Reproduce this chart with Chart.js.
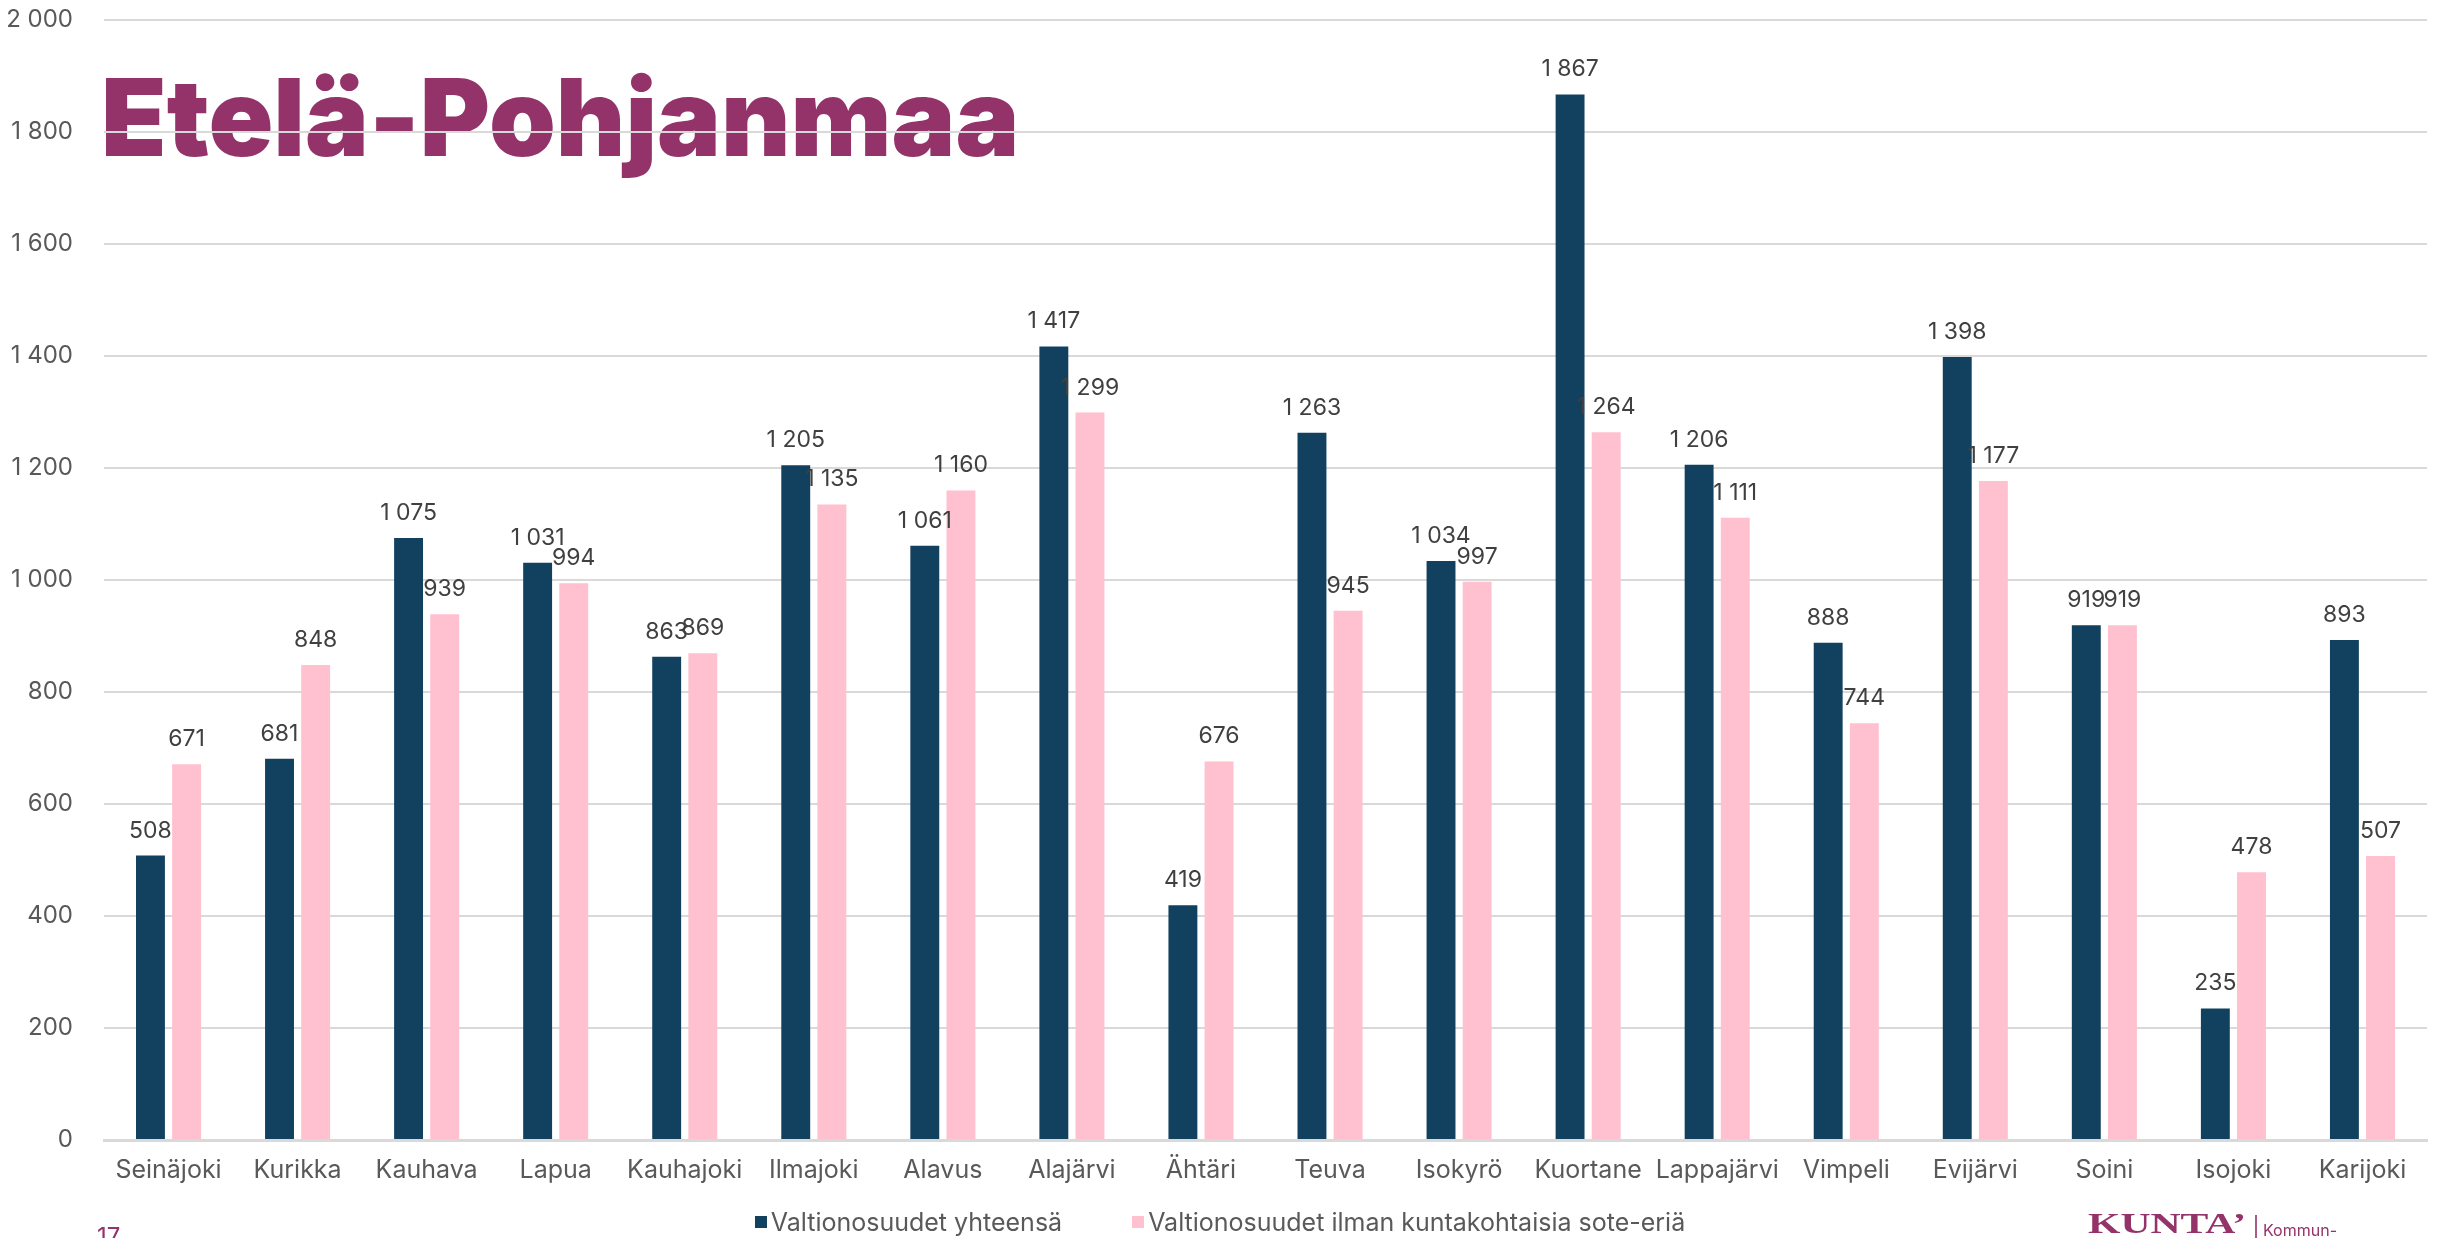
<!DOCTYPE html>
<html>
<head>
<meta charset="utf-8">
<script src="https://cdn.jsdelivr.net/npm/chart.js@4/dist/chart.umd.min.js"></script>
<style>
  html, body { margin: 0; padding: 0; background: #ffffff; }
  body { width: 2440px; height: 1238px; position: relative; overflow: hidden; font-family: Inter, "Open Sans", sans-serif; }
  #title { position: absolute; left: 101px; top: 64px; font-family: Inter, "Liberation Sans", sans-serif; font-weight: 900; font-size: 107px; line-height: 107px; color: #93336A; white-space: nowrap; transform-origin: 0 0; z-index: 0; }
  #wrap { position: absolute; left: 0; top: 0; width: 2440px; height: 1238px; z-index: 1; }
  #legend { position: absolute; top: 1207px; left: 0; width: 2440px; display: flex; justify-content: center; gap: 70px; font-size: 25px; line-height: 30px; color: #595959; z-index: 2; }
  #legend .item { display: flex; align-items: center; }
  #legend .sw { width: 12px; height: 12px; margin-right: 4px; display: inline-block; }
  #page { position: absolute; left: 97px; top: 1222px; font-size: 24px; color: #93336A; z-index: 2; }
  #kunta { position: absolute; left: 2088px; top: 1206px; font-family: "Liberation Serif", "DejaVu Serif", serif; font-weight: bold; font-size: 29px; line-height: 34px; color: #93336A; transform-origin: 0 0; z-index: 2; white-space: nowrap; }
  #sep { position: absolute; left: 2255px; top: 1215px; width: 2px; height: 23px; background: #93336A; opacity: 0.8; z-index: 2; }
  #kommun { position: absolute; left: 2263px; top: 1220px; font-size: 16px; line-height: 20px; color: #93336A; z-index: 2; white-space: nowrap; }
</style>
</head>
<body>
<div id="title">Etelä-Pohjanmaa</div>
<div id="wrap"><canvas id="c" width="2440" height="1238"></canvas></div>
<div id="legend"></div>
<div id="page">17</div>
<div id="kunta">KUNTA’</div>
<div id="sep"></div>
<div id="kommun">Kommun-</div>
<script>
const categories = ["Seinäjoki","Kurikka","Kauhava","Lapua","Kauhajoki","Ilmajoki","Alavus","Alajärvi","Ähtäri","Teuva","Isokyrö","Kuortane","Lappajärvi","Vimpeli","Evijärvi","Soini","Isojoki","Karijoki"];
const seriesNames = ["Valtionosuudet yhteensä","Valtionosuudet ilman kuntakohtaisia sote-eriä"];
const totalValues = [508,681,1075,1031,863,1205,1061,1417,419,1263,1034,1867,1206,888,1398,919,235,893];
const withoutSoteValues = [671,848,939,994,869,1135,1160,1299,676,945,997,1264,1111,744,1177,919,478,507];
const yTicks = [0,200,400,600,800,1000,1200,1400,1600,1800,2000];
const colors = ["#12405F","#FFC0CF"];

function fmt(n){ return String(n).replace(/\B(?=(\d{3})+(?!\d))/g, " "); }

// title width fit
const t = document.getElementById('title');
t.style.transform = 'scaleX(' + (918 / t.offsetWidth) + ')';
const k = document.getElementById('kunta');
k.style.transform = 'scaleX(' + (158 / k.offsetWidth) + ')';

// legend
const lg = document.getElementById('legend');
seriesNames.forEach((n,i)=>{
  const it = document.createElement('div'); it.className='item';
  const sw = document.createElement('span'); sw.className='sw'; sw.style.background = colors[i];
  const tx = document.createElement('span'); tx.textContent = n;
  it.appendChild(sw); it.appendChild(tx); lg.appendChild(it);
});

const labelPlugin = {
  id: 'valueLabels',
  afterDatasetsDraw(chart){
    const ctx = chart.ctx;
    ctx.save();
    ctx.font = '23px Inter, "Open Sans", sans-serif';
    ctx.fillStyle = '#404040';
    ctx.textAlign = 'center';
    ctx.textBaseline = 'alphabetic';
    chart.data.datasets.forEach((ds, di)=>{
      const meta = chart.getDatasetMeta(di);
      meta.data.forEach((el, i)=>{
        ctx.fillText(fmt(ds.data[i]), el.x, el.y - 18);
      });
    });
    ctx.restore();
  }
};

new Chart(document.getElementById('c'), {
  type: 'bar',
  data: {
    labels: categories,
    datasets: [
      { label: seriesNames[0], data: totalValues, backgroundColor: colors[0], barPercentage: 0.8, categoryPercentage: 0.56 },
      { label: seriesNames[1], data: withoutSoteValues, backgroundColor: colors[1], barPercentage: 0.8, categoryPercentage: 0.56 }
    ]
  },
  options: {
    responsive: false,
    animation: false,
    devicePixelRatio: 1,
    layout: { padding: { top: 20, right: 13, left: 0, bottom: 0 } },
    plugins: { legend: { display: false }, tooltip: { enabled: false } },
    scales: {
      x: {
        grid: { display: false, drawTicks: false },
        border: { display: true, color: '#D9D9D9', width: 3 },
        ticks: { color: '#595959', font: { family: 'Inter', size: 25 }, padding: 15, maxRotation: 0, autoSkip: false },
        afterFit(s){ s.height = 98; }
      },
      y: {
        min: 0, max: 2000,
        afterBuildTicks(s){ s.ticks = yTicks.map(v=>({value:v})); },
        grid: { color: '#D9D9D9', lineWidth: 2, drawTicks: false },
        border: { display: false },
        ticks: { color: '#595959', font: { family: 'Inter', size: 24 }, padding: 31, callback: v => fmt(v) },
        afterFit(s){ s.width = 104; s.paddingTop = 0; s.paddingBottom = 0; }
      }
    }
  },
  plugins: [labelPlugin]
});
</script>
</body>
</html>
